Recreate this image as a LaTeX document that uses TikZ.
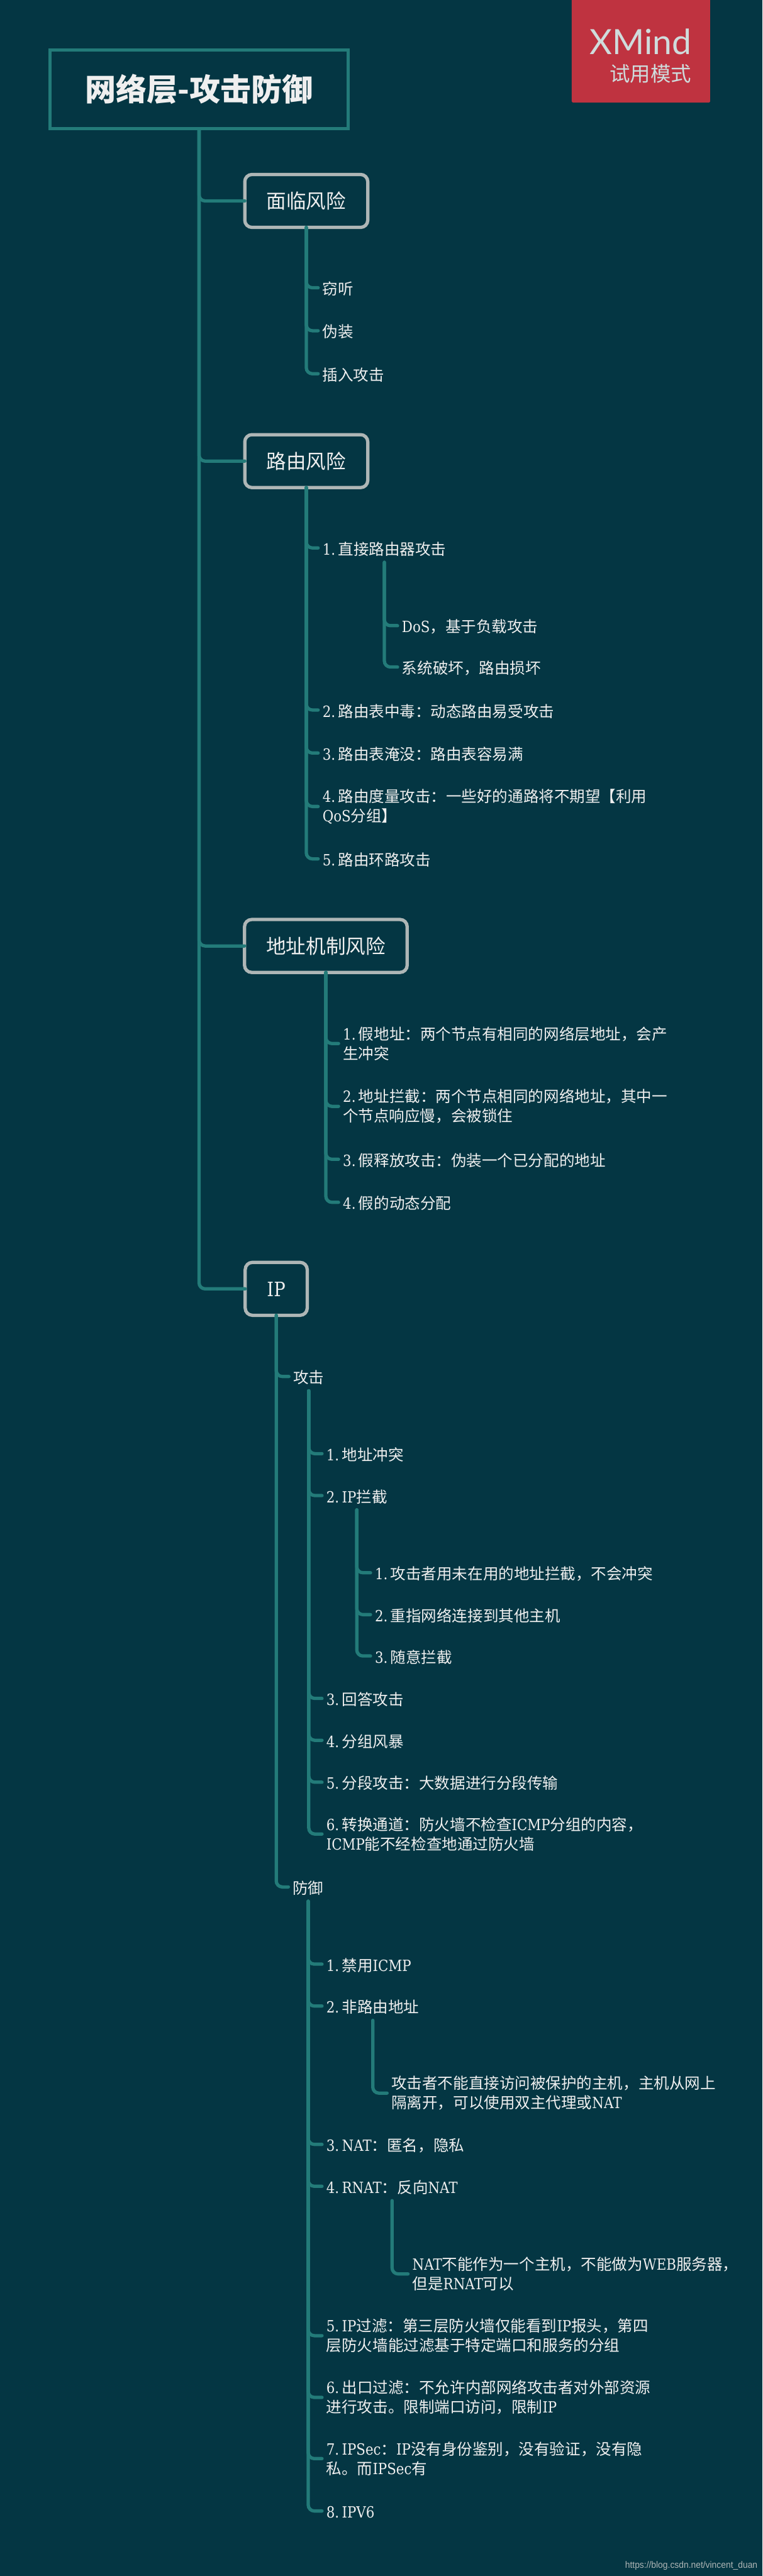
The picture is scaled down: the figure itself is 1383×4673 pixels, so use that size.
\documentclass[tikz,border=0pt]{standalone}
\usepackage{fontspec}
\setmainfont{Noto Sans CJK SC}
\newfontfamily\latfont[FakeStretch=0.87]{DejaVu Serif}
\newfontfamily\badgefont{Lato}
\newfontfamily\markfont[FakeStretch=0.93]{Liberation Sans}
\newcommand{\lat}[1]{{\latfont #1}}
\newcommand{\nr}[1]{{\latfont #1.\hspace{5pt}}}
\definecolor{bgsea}{HTML}{043643}
\definecolor{linkteal}{HTML}{237B79}
\definecolor{boxgrey}{HTML}{AEB6B6}
\definecolor{labelwhite}{HTML}{EFEFEF}
\definecolor{badgered}{HTML}{BF3340}
\definecolor{badgegrey}{HTML}{CFDCDC}
\tikzset{
	rootbox/.style={draw=linkteal,line width=6pt,minimum width=541pt,minimum height=143pt,outer sep=0pt,text=labelwhite,font=\fontsize{56}{60}\selectfont\bfseries},
	riskbox/.style={draw=boxgrey,line width=6pt,rounded corners=13pt,minimum height=96pt,inner xsep=39.5pt,outer sep=0pt,text height=28pt,text depth=0pt,text=labelwhite,font=\fontsize{36}{40}\selectfont},
	leaf/.style={anchor=west,inner xsep=8pt,inner ysep=0pt,outer sep=0pt,text=labelwhite,align=left,font=\fontsize{28}{35.5}\selectfont,text height=38.6pt,text depth=13.4pt},
	leaftwo/.style={anchor=west,inner xsep=8pt,inner ysep=0pt,outer sep=0pt,text=labelwhite,align=left,font=\fontsize{28}{35.5}\selectfont},
	branch/.style={draw=linkteal,line width=6pt,line cap=round,rounded corners=11pt},
}
\begin{document}
\begin{tikzpicture}[x=1pt,y=-1pt]
	\useasboundingbox (0,0) rectangle (1383,4673);
	\fill[bgsea] (0,0) rectangle (1383,4673);
	%BADGE
	\fill[badgered,rounded corners=2pt] (1037,-5) rectangle (1288,186);
	\node[anchor=east,inner sep=0pt,text=badgegrey,font=\fontsize{63}{63}\selectfont\badgefont] (badgename) at (1254,76) {XMind};
	\node[anchor=east,inner sep=0pt,text=badgegrey,font=\fontsize{37}{40}\selectfont] (badgemode) at (1254,134) {试用模式};
	%ROOT
	\node[rootbox] (root) at (361,162) {网络层-攻击防御};
	%TOP BRANCHES
	\node[riskbox] (face) at (555.5,364.5) {面临风险};
	\node[riskbox] (route) at (555.5,836.5) {路由风险};
	\node[riskbox] (addr) at (591,1716) {地址机制风险};
	\node[riskbox] (ip) at (501,2338) {\lat{IP}};
	%FACE
	\node[leaf] (faceone) at (577,522) {窃听};
	\node[leaf] (facetwo) at (577,600) {伪装};
	\node[leaf] (facethree) at (577,678) {插入攻击};
	%ROUTE
	\node[leaf] (routeone) at (577,994) {\nr{1}直接路由器攻击};
	\node[leaf] (routeonea) at (721,1135) {\lat{DoS}，基于负载攻击};
	\node[leaf] (routeoneb) at (721,1210) {系统破坏，路由损坏};
	\node[leaf] (routetwo) at (577,1288) {\nr{2}路由表中毒：动态路由易受攻击};
	\node[leaf] (routethree) at (577,1366) {\nr{3}路由表淹没：路由表容易满};
	\node[leaftwo] (routefour) at (577,1463) {\nr{4}路由度量攻击：一些好的通路将不期望【利用\\\lat{QoS}分组】};
	\node[leaf] (routefive) at (577,1558) {\nr{5}路由环路攻击};
	%ADDR
	\node[leaftwo] (addrone) at (614,1893) {\nr{1}假地址：两个节点有相同的网络层地址，会产\\生冲突};
	\node[leaftwo] (addrtwo) at (614,2007) {\nr{2}地址拦截：两个节点相同的网络地址，其中一\\个节点响应慢，会被锁住};
	\node[leaf] (addrthree) at (614,2103) {\nr{3}假释放攻击：伪装一个已分配的地址};
	\node[leaf] (addrfour) at (614,2181) {\nr{4}假的动态分配};
	%IP ATTACK
	\node[leaf] (attack) at (524,2497) {攻击};
	\node[leaf] (attackone) at (584,2637) {\nr{1}地址冲突};
	\node[leaf] (attacktwo) at (584,2713) {\nr{2}\lat{IP}拦截};
	\node[leaf] (attacktwoa) at (672,2853) {\nr{1}攻击者用未在用的地址拦截，不会冲突};
	\node[leaf] (attacktwob) at (672,2929) {\nr{2}重指网络连接到其他主机};
	\node[leaf] (attacktwoc) at (672,3004) {\nr{3}随意拦截};
	\node[leaf] (attackthree) at (584,3081) {\nr{3}回答攻击};
	\node[leaf] (attackfour) at (584,3157) {\nr{4}分组风暴};
	\node[leaf] (attackfive) at (584,3233) {\nr{5}分段攻击：大数据进行分段传输};
	\node[leaftwo] (attacksix) at (584,3327) {\nr{6}转换通道：防火墙不检查\lat{ICMP}分组的内容，\\\lat{ICMP}能不经检查地通过防火墙};
	%IP DEFEND
	\node[leaf] (defend) at (523,3423) {防御};
	\node[leaf] (defendone) at (584,3563) {\nr{1}禁用\lat{ICMP}};
	\node[leaf] (defendtwo) at (584,3639) {\nr{2}非路由地址};
	\node[leaftwo] (defendtwoa) at (702,3797) {攻击者不能直接访问被保护的主机，主机从网上\\隔离开，可以使用双主代理或\lat{NAT}};
	\node[leaf] (defendthree) at (584,3890) {\nr{3}\lat{NAT}：匿名，隐私};
	\node[leaf] (defendfour) at (584,3966) {\nr{4}\lat{RNAT}：反向\lat{NAT}};
	\node[leaftwo] (defendfoura) at (740,4125) {\lat{NAT}不能作为一个主机，不能做为\lat{WEB}服务器，\\但是\lat{RNAT}可以};
	\node[leaftwo] (defendfive) at (584,4237) {\nr{5}\lat{IP}过滤：第三层防火墙仅能看到\lat{IP}报头，第四\\层防火墙能过滤基于特定端口和服务的分组};
	\node[leaftwo] (defendsix) at (584,4349) {\nr{6}出口过滤：不允许内部网络攻击者对外部资源\\进行攻击。限制端口访问，限制\lat{IP}};
	\node[leaftwo] (defendseven) at (584,4460) {\nr{7}\lat{IPSec}：\lat{IP}没有身份鉴别，没有验证，没有隐\\私。而\lat{IPSec}有};
	\node[leaf] (defendeight) at (584,4555) {\nr{8}\lat{IPV6}};
	%WATERMARK
	\node[anchor=east,inner sep=0pt,text=boxgrey,font=\fontsize{17}{20}\selectfont\markfont] (watermark) at (1374,4654) {https://blog.csdn.net/vincent\_duan};
	%CONNECTORS
	\draw[branch] (root.south) |- (face.west);
	\draw[branch] (root.south) |- (route.west);
	\draw[branch] (root.south) |- (addr.west);
	\draw[branch] (root.south) |- (ip.west);
	\draw[branch] (face.south) |- (faceone.west);
	\draw[branch] (face.south) |- (facetwo.west);
	\draw[branch] (face.south) |- (facethree.west);
	\draw[branch] (route.south) |- (routeone.west);
	\draw[branch] (routeone.south) |- (routeonea.west);
	\draw[branch] (routeone.south) |- (routeoneb.west);
	\draw[branch] (route.south) |- (routetwo.west);
	\draw[branch] (route.south) |- (routethree.west);
	\draw[branch] (route.south) |- (routefour.west);
	\draw[branch] (route.south) |- (routefive.west);
	\draw[branch] (addr.south) |- (addrone.west);
	\draw[branch] (addr.south) |- (addrtwo.west);
	\draw[branch] (addr.south) |- (addrthree.west);
	\draw[branch] (addr.south) |- (addrfour.west);
	\draw[branch] (ip.south) |- (attack.west);
	\draw[branch] (ip.south) |- (defend.west);
	\draw[branch] (attack.south) |- (attackone.west);
	\draw[branch] (attack.south) |- (attacktwo.west);
	\draw[branch] (attacktwo.south) |- (attacktwoa.west);
	\draw[branch] (attacktwo.south) |- (attacktwob.west);
	\draw[branch] (attacktwo.south) |- (attacktwoc.west);
	\draw[branch] (attack.south) |- (attackthree.west);
	\draw[branch] (attack.south) |- (attackfour.west);
	\draw[branch] (attack.south) |- (attackfive.west);
	\draw[branch] (attack.south) |- (attacksix.west);
	\draw[branch] (defend.south) |- (defendone.west);
	\draw[branch] (defend.south) |- (defendtwo.west);
	\draw[branch] (defendtwo.south) |- (defendtwoa.west);
	\draw[branch] (defend.south) |- (defendthree.west);
	\draw[branch] (defend.south) |- (defendfour.west);
	\draw[branch] (defendfour.south) |- (defendfoura.west);
	\draw[branch] (defend.south) |- (defendfive.west);
	\draw[branch] (defend.south) |- (defendsix.west);
	\draw[branch] (defend.south) |- (defendseven.west);
	\draw[branch] (defend.south) |- (defendeight.west);
\end{tikzpicture}
\end{document}
